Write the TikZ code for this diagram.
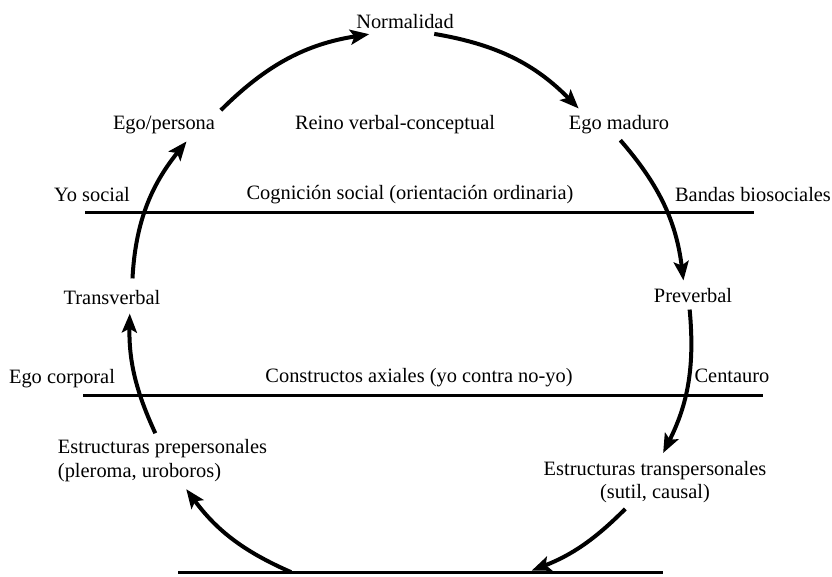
\documentclass[tikz,border=0pt]{standalone}
\usepackage{fontspec}
\setmainfont{Liberation Serif}
\usetikzlibrary{arrows.meta}

\begin{document}
\begin{tikzpicture}[x=0.5pt,y=-0.5pt]

        \useasboundingbox (0,0) rectangle (832,577);

        \begin{scope}[every node/.style={font=\fontsize{10.2}{11.8}\selectfont, inner sep=2pt}]
          \node (1)  at (405,22)      {Normalidad};
          \node (2)  at (164,125)     {Ego/persona};
          \node (3)  at (395,125)     {Reino verbal-conceptual};
          \node (4)  at (619,125)     {Ego maduro};
          \node (5)  at (693,296)     {Preverbal};
          \node[align=center] (6)  at (655,482)   {Estructuras transpersonales\\(sutil, causal)};
          \node[align=left]   (7)  at (162.5,460.5) {Estructuras prepersonales\\(pleroma, uroboros)};
          \node (8)  at (112,298)     {Transverbal};
          \node (9)  at (92,195)      {Yo social};
          \node (10) at (410,195)     {Cognición social (orientación ordinaria)};
          \node (11) at (753,195)     {Bandas biosociales};
          \node (12) at (62,379)      {Ego corporal};
          \node (13) at (419,378)     {Constructos axiales (yo contra no-yo)};
          \node (14) at (732,376)     {Centauro};
        \end{scope}

        \coordinate (a1) at (85,213);
        \coordinate (a2) at (754,213);
        \coordinate (b1) at (83,396);
        \coordinate (b2) at (763,396);
        \coordinate (c1) at (178,573);
        \coordinate (c2) at (663,573);
        \coordinate (c3) at (293,573);
        \coordinate (c4) at (528,572);

        \begin{scope}[line width=1.5pt]
          \draw (a1) -- (a2);
          \draw (b1) -- (b2);
          \draw (c1) -- (c2);
        \end{scope}

        \begin{scope}[every edge/.style={draw, line width=2pt, shorten <=1pt, shorten >=2pt,
                                         -{Stealth[length=9.5pt,width=7.5pt,inset=2pt]}}]
          \path (8.30)          edge[bend left=18, shorten <=4pt] (2.-28);
          \path (2.north east)  edge[bend left=18] (1.-160);
          \path (1.-23)         edge[bend left=18] (4.160);
          \path (4.south)       edge[bend left=17] (5.128);
          \path (5.-107)        edge[bend left=16] (6.76);
          \path (6.-138)        edge[bend left=12] (c4);
          \path (c3)            edge[bend left=15] (7.-50);
          \path (7.104)         edge[bend left=13] (8.-33);
        \end{scope}

      \end{tikzpicture}
\end{document}
